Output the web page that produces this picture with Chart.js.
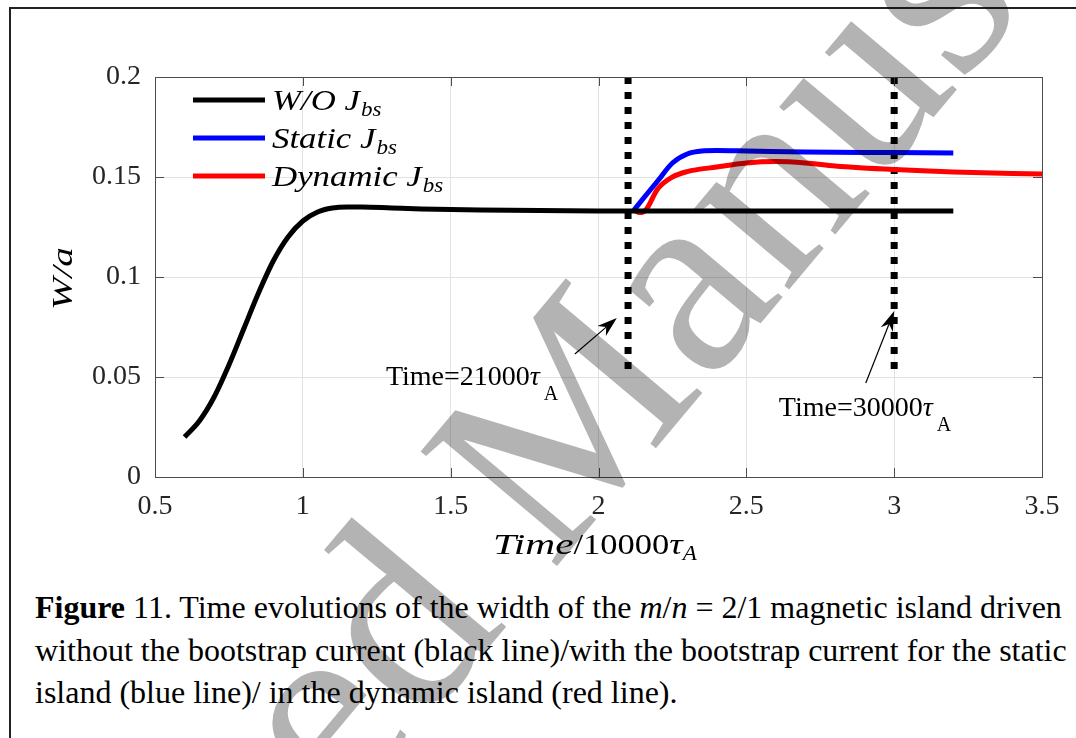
<!DOCTYPE html>
<html>
<head>
<meta charset="utf-8">
<script src="https://cdn.jsdelivr.net/npm/chart.js@4.4.0/dist/chart.umd.min.js"></script>
<style>
  body { margin: 0; background: #fff; width: 1076px; height: 738px; overflow: hidden; position: relative; font-family: "Liberation Serif", serif; }
  #frame { position: absolute; left: 9px; top: 7px; width: 1200px; height: 900px; border: 2px solid #222; }
  #wrap { position: absolute; left: 0; top: 0; width: 1076px; height: 570px; }
  #caption { position: absolute; left: 35px; top: 586px; width: 1060px; font-size: 32px; line-height: 42.5px; color: #000; white-space: nowrap; }
  #mark { position: absolute; left: 0; top: 0; mix-blend-mode: multiply; pointer-events: none; }
</style>
</head>
<body>
<div id="frame"></div>
<div id="wrap"><canvas id="islandChart" width="1076" height="570"></canvas></div>
<div id="caption"><b>Figure</b> 11. Time evolutions of the width of the <i>m</i>/<i>n</i> = 2/1 magnetic island driven<br>without the bootstrap current (black line)/with the bootstrap current for the static<br>island (blue line)/ in the dynamic island (red line).</div>
<svg id="mark" width="1076" height="738">
  <g transform="translate(552,572) rotate(-50)" font-family="Liberation Serif" font-size="272" fill="#b3b3b3">
    <text x="-68" text-anchor="end">Accepted</text>
    <text x="0">Manuscript</text>
  </g>
</svg>
<script>
// time in units of 10000 tau_A, island width W/a
const timeBlack = [0.6, 0.65, 0.7, 0.75, 0.8, 0.85, 0.9, 0.95, 1.0, 1.05, 1.1, 1.15, 1.2, 1.3, 1.4, 1.6, 2.0, 2.5, 3.0, 3.2];
const widthBlack = [0.020, 0.028, 0.040, 0.056, 0.074, 0.092, 0.108, 0.120, 0.128, 0.1325, 0.1345, 0.135, 0.135, 0.1345, 0.134, 0.1335, 0.133, 0.133, 0.133, 0.133];

const timeStatic = [2.12, 2.15, 2.2, 2.25, 2.3, 2.35, 2.4, 2.5, 2.7, 3.0, 3.2];
const widthStatic = [0.1335, 0.139, 0.148, 0.157, 0.1615, 0.163, 0.1632, 0.163, 0.1625, 0.1622, 0.162];

const timeDynamic = [2.12, 2.14, 2.16, 2.2, 2.25, 2.3, 2.4, 2.5, 2.6, 2.7, 2.8, 3.0, 3.2, 3.5];
const widthDynamic = [0.1335, 0.1322, 0.1335, 0.144, 0.150, 0.1527, 0.155, 0.157, 0.1577, 0.157, 0.1555, 0.1537, 0.1525, 0.1515];

const markerTimes = [2.1, 3.0];
const markerLabels = ['Time=21000', 'Time=30000'];

const seriesNames = ['W/O J', 'Static J', 'Dynamic J'];
const seriesColors = ['#000000', '#0000ff', '#ff0000'];

const xTicks = [0.5, 1, 1.5, 2, 2.5, 3, 3.5];
const yTicks = [0, 0.05, 0.1, 0.15, 0.2];

const toPoints = (xs, ys) => xs.map((t, i) => ({ x: t, y: ys[i] }));

// math-style text is wider than Liberation Serif italic, so stretch it a bit
function wideText(ctx, text, x, y, font, sx) {
    ctx.font = font;
    ctx.save();
    ctx.translate(x, y);
    ctx.scale(sx, 1);
    ctx.fillText(text, 0, 0);
    ctx.restore();
    return ctx.measureText(text).width * sx;
}

function arrow(ctx, x0, y0, x1, y1) {
    const ang = Math.atan2(y1 - y0, x1 - x0);
    const c = Math.cos(ang), s = Math.sin(ang);
    const len = 20, half = 6.5;
    ctx.beginPath();
    ctx.moveTo(x0, y0);
    ctx.lineTo(x1 - c * len * 0.7, y1 - s * len * 0.7);
    ctx.lineWidth = 1.2;
    ctx.stroke();
    ctx.beginPath();
    ctx.moveTo(x1, y1);
    ctx.lineTo(x1 - c * len - s * half, y1 - s * len + c * half);
    ctx.lineTo(x1 - c * len * 0.7, y1 - s * len * 0.7);
    ctx.lineTo(x1 - c * len + s * half, y1 - s * len - c * half);
    ctx.closePath();
    ctx.fill();
}

const figureExtras = {
    id: 'figureExtras',
    afterDraw(chart) {
        const { ctx, chartArea: a, scales: { x, y } } = chart;
        ctx.save();

        // axes box with inward ticks
        ctx.strokeStyle = '#4d4d4d';
        ctx.lineWidth = 1;
        ctx.strokeRect(a.left + 0.5, a.top + 0.5, a.right - a.left, a.bottom - a.top);
        ctx.beginPath();
        xTicks.forEach(t => {
            const px = Math.round(x.getPixelForValue(t)) + 0.5;
            ctx.moveTo(px, a.bottom); ctx.lineTo(px, a.bottom - 9);
            ctx.moveTo(px, a.top); ctx.lineTo(px, a.top + 9);
        });
        yTicks.forEach(v => {
            const py = Math.round(y.getPixelForValue(v)) + 0.5;
            ctx.moveTo(a.left, py); ctx.lineTo(a.left + 9, py);
            ctx.moveTo(a.right, py); ctx.lineTo(a.right - 9, py);
        });
        ctx.stroke();

        // legend
        ctx.textBaseline = 'alphabetic';
        ctx.textAlign = 'left';
        const rows = [100, 138, 176];
        seriesNames.forEach((name, i) => {
            ctx.strokeStyle = seriesColors[i];
            ctx.lineWidth = 5;
            ctx.beginPath();
            ctx.moveTo(193, rows[i]); ctx.lineTo(265, rows[i]);
            ctx.stroke();
            ctx.fillStyle = '#000';
            const w = wideText(ctx, name, 272, rows[i] + 10, 'italic 29px "Liberation Serif"', 1.2);
            wideText(ctx, 'bs', 272 + w + 1, rows[i] + 16, 'italic 20px "Liberation Serif"', 1.15);
        });

        // annotations
        ctx.fillStyle = '#000';
        ctx.strokeStyle = '#000';
        ctx.textBaseline = 'middle';
        const t1x = x.getPixelForValue(1.281), t1y = y.getPixelForValue(0.0495);
        const t2x = x.getPixelForValue(2.61), t2y = y.getPixelForValue(0.034);
        [[markerLabels[0], t1x, t1y], [markerLabels[1], t2x, t2y]].forEach(([label, px, py]) => {
            ctx.font = '28px "Liberation Serif"';
            ctx.fillText(label, px, py);
            const w = ctx.measureText(label).width;
            ctx.font = 'italic 28px "Liberation Serif"';
            ctx.fillText('\u03c4', px + w, py);
            const wt = ctx.measureText('\u03c4').width;
            ctx.font = '20px "Liberation Serif"';
            ctx.fillText('A', px + w + wt + 4, py + 17);
        });
        arrow(ctx, x.getPixelForValue(1.92), y.getPixelForValue(0.0615), x.getPixelForValue(2.062), y.getPixelForValue(0.0795));
        arrow(ctx, x.getPixelForValue(2.904), y.getPixelForValue(0.047), x.getPixelForValue(3.0), y.getPixelForValue(0.083));

        // axis titles
        ctx.textBaseline = 'alphabetic';
        let tx = 493;
        const ty = 554;
        tx += wideText(ctx, 'Time', tx, ty, 'italic 30px "Liberation Serif"', 1.38);
        tx += wideText(ctx, '/10000', tx, ty, '30px "Liberation Serif"', 1.15);
        tx += wideText(ctx, '\u03c4', tx, ty, 'italic 30px "Liberation Serif"', 1.25);
        wideText(ctx, 'A', tx, ty + 6, 'italic 21px "Liberation Serif"', 1.1);

        ctx.translate(72, 310);
        ctx.rotate(-Math.PI / 2);
        wideText(ctx, 'W/a', 0, 0, 'italic 30px "Liberation Serif"', 1.3);
        ctx.restore();
    }
};

const ctx = document.getElementById('islandChart').getContext('2d');
const islandChart = new Chart(ctx, {
    type: 'line',
    data: {
        datasets: [
            { label: 'W/O Jbs', data: toPoints(timeBlack, widthBlack), borderColor: seriesColors[0], borderWidth: 5, pointRadius: 0, cubicInterpolationMode: 'monotone' },
            { label: 'Static Jbs', data: toPoints(timeStatic, widthStatic), borderColor: seriesColors[1], borderWidth: 5, pointRadius: 0, cubicInterpolationMode: 'monotone' },
            { label: 'Dynamic Jbs', data: toPoints(timeDynamic, widthDynamic), borderColor: seriesColors[2], borderWidth: 5, pointRadius: 0, cubicInterpolationMode: 'monotone' },
            { label: 'marker1', data: [{ x: markerTimes[0], y: 0.2 }, { x: markerTimes[0], y: 0.05 }], borderColor: '#000', borderWidth: 7, borderDash: [7, 8], borderCapStyle: 'butt', pointRadius: 0 },
            { label: 'marker2', data: [{ x: markerTimes[1], y: 0.2 }, { x: markerTimes[1], y: 0.05 }], borderColor: '#000', borderWidth: 7, borderDash: [7, 8], borderCapStyle: 'butt', pointRadius: 0 }
        ]
    },
    options: {
        responsive: false,
        animation: false,
        layout: { padding: { top: 77, right: 34, left: 0, bottom: 0 } },
        plugins: { legend: { display: false }, tooltip: { enabled: false } },
        scales: {
            x: {
                type: 'linear', min: 0.5, max: 3.5,
                afterBuildTicks: s => { s.ticks = xTicks.map(v => ({ value: v })); },
                afterFit: s => { s.height = 93; },
                ticks: { color: '#262626', font: { family: 'Liberation Serif', size: 28 }, padding: 13, maxRotation: 0, callback: v => String(v) },
                grid: { color: '#e2e2e2', drawTicks: false },
                border: { display: false }
            },
            y: {
                min: 0, max: 0.2,
                afterBuildTicks: s => { s.ticks = yTicks.map(v => ({ value: v })); },
                afterFit: s => { s.width = 155; },
                ticks: { color: '#262626', font: { family: 'Liberation Serif', size: 28 }, padding: 14, callback: v => String(Math.round(v * 100) / 100) },
                grid: { color: '#e2e2e2', drawTicks: false },
                border: { display: false }
            }
        }
    },
    plugins: [figureExtras]
});
</script>
</body>
</html>
